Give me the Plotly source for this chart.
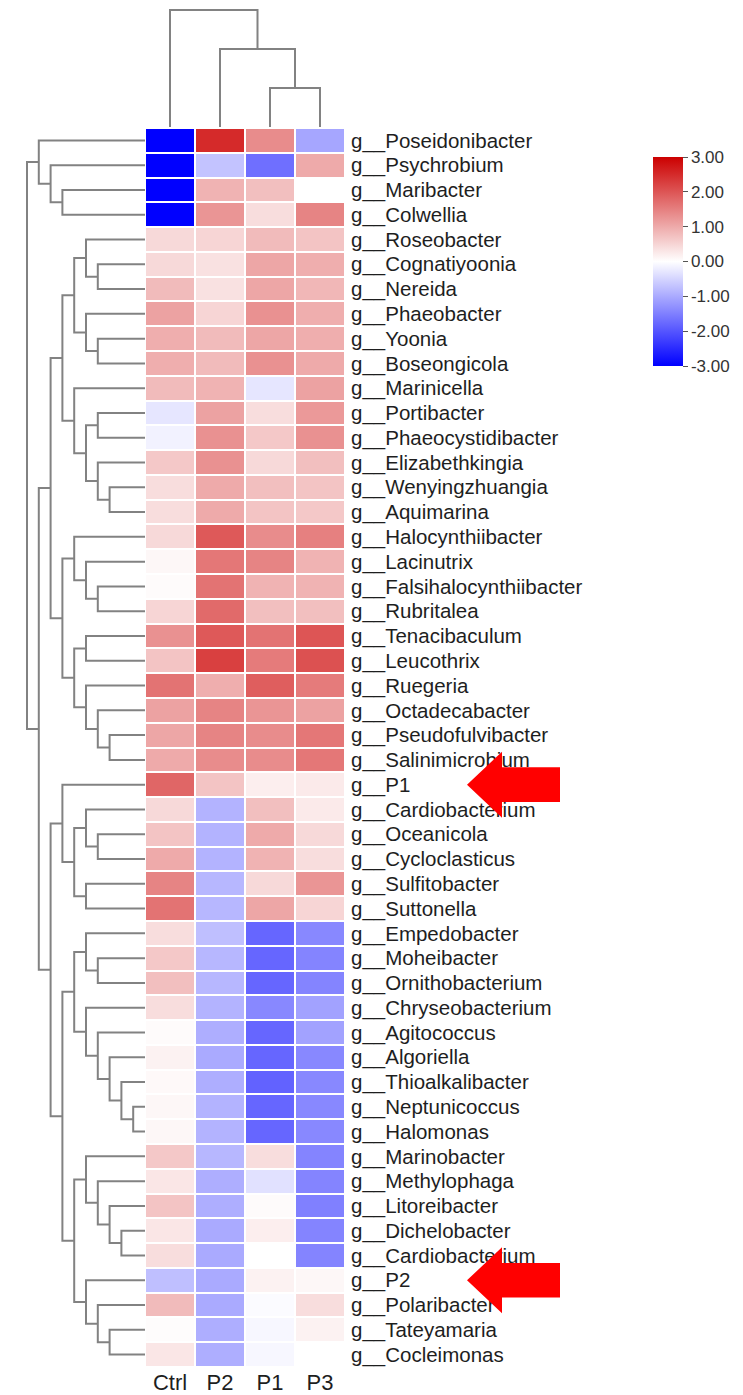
import plotly.graph_objects as go

# ---------------- data ----------------
columns = ["Ctrl", "P2", "P1", "P3"]

genera = [
    "g__Poseidonibacter", "g__Psychrobium", "g__Maribacter", "g__Colwellia",
    "g__Roseobacter", "g__Cognatiyoonia", "g__Nereida", "g__Phaeobacter",
    "g__Yoonia", "g__Boseongicola", "g__Marinicella", "g__Portibacter",
    "g__Phaeocystidibacter", "g__Elizabethkingia", "g__Wenyingzhuangia",
    "g__Aquimarina", "g__Halocynthiibacter", "g__Lacinutrix",
    "g__Falsihalocynthiibacter", "g__Rubritalea", "g__Tenacibaculum",
    "g__Leucothrix", "g__Ruegeria", "g__Octadecabacter", "g__Pseudofulvibacter",
    "g__Salinimicrobium", "g__P1", "g__Cardiobacterium", "g__Oceanicola",
    "g__Cycloclasticus", "g__Sulfitobacter", "g__Suttonella", "g__Empedobacter",
    "g__Moheibacter", "g__Ornithobacterium", "g__Chryseobacterium",
    "g__Agitococcus", "g__Algoriella", "g__Thioalkalibacter", "g__Neptunicoccus",
    "g__Halomonas", "g__Marinobacter", "g__Methylophaga", "g__Litoreibacter",
    "g__Dichelobacter", "g__Cardiobacterium ", "g__P2", "g__Polaribacter",
    "g__Tateyamaria", "g__Cocleimonas",
]

ctrl_vals = [-3, -3, -3, -3,
             0.45, 0.45, 0.8, 1.1, 0.95, 0.95, 0.8, -0.3, -0.15, 0.65, 0.4, 0.4,
             0.45, 0.1, 0.05, 0.5, 1.3, 0.7, 1.65, 1.1, 1.05, 1.0,
             1.8, 0.45, 0.7, 1.0, 1.45, 1.65,
             0.4, 0.65, 0.75, 0.4, 0.05, 0.15, 0.07, 0.1, 0.1,
             0.65, 0.3, 0.7, 0.3, 0.4, -0.75, 0.8, 0.03, 0.3]
p2_vals = [2.5, -0.7, 0.9, 1.25,
           0.5, 0.35, 0.35, 0.5, 0.8, 0.8, 0.9, 1.1, 1.3, 1.3, 1.0, 1.0,
           1.95, 1.6, 1.65, 1.75, 1.95, 2.25, 0.95, 1.45, 1.45, 1.35,
           0.7, -0.9, -0.9, -0.9, -0.85, -0.85,
           -0.75, -0.85, -0.85, -0.9, -0.95, -1.0, -0.95, -0.9, -0.9,
           -0.85, -0.95, -0.95, -1.0, -1.0, -1.0, -1.0, -0.95, -0.95]
p1_vals = [1.35, -1.7, 0.75, 0.4,
           0.8, 1.05, 1.05, 1.3, 1.05, 1.3, -0.3, 0.4, 0.65, 0.45, 0.75, 0.7,
           1.35, 1.45, 0.9, 0.75, 1.65, 1.55, 1.9, 1.25, 1.35, 1.35,
           0.2, 0.75, 1.0, 0.9, 0.45, 1.05,
           -1.8, -1.8, -1.8, -1.4, -1.8, -1.8, -1.85, -1.8, -1.8,
           0.4, -0.35, 0.05, 0.2, 0.0, 0.15, -0.05, -0.1, -0.1]
p3_vals = [-1.05, 1.0, 0.0, 1.45,
           0.7, 0.95, 0.85, 0.95, 0.95, 1.0, 1.1, 1.2, 1.3, 0.75, 0.7, 0.65,
           1.5, 0.9, 0.9, 0.75, 2.0, 2.05, 1.55, 1.1, 1.6, 1.6,
           0.25, 0.25, 0.45, 0.4, 1.25, 0.5,
           -1.4, -1.45, -1.45, -1.1, -1.1, -1.4, -1.4, -1.4, -1.4,
           -1.45, -1.45, -1.5, -1.45, -1.45, 0.1, 0.4, 0.15, 0.0]

colorbar_ticks = [3, 2, 1, 0, -1, -2, -3]
colorbar_ticktext = ["3.00", "2.00", "1.00", "0.00", "-1.00", "-2.00", "-3.00"]

# dendrograms: [left, right, merge height]; leaves = row / column index
top4 = [0, [1, [2, 3, 7], 8], 9]
grp_a = [[4, [5, 6, 4], 5], [7, [8, 9, 4], 5], 6]
grp_b = [10, [[11, 12, 4], [13, [14, 15, 3], 4], 5], 6]
grp_c = [16, [17, [18, 19, 4], 5], 6]
grp_d = [[20, 21, 5], [22, [23, [24, 25, 3], 4], 5], 6]
grp_e = [26, [[27, [28, 29, 4], 5], [30, 31, 5], 6], 7]
grp_f1 = [[32, [33, 34, 4], 5], [35, [36, [37, [38, [39, 40, 1], 2], 3], 4], 5], 6]
grp_f2 = [[41, [42, [43, [44, 45, 2], 3], 4], 5], [46, [47, [48, 49, 3], 4], 5], 6]
row_tree = [top4, [[[grp_a, grp_b, 7], [grp_c, grp_d, 7], 8],
                   [grp_e, [grp_f1, grp_f2, 7], 8], 9], 10]
col_tree = [0, [1, [2, 3, 1], 2], 3]

# ---------------- layout geometry ----------------
W, H = 743, 1395
hm_left, hm_right = 145, 345
hm_top, hm_bottom = 128, 1367
row_step_px = 11.8     # px per dendrogram level (rows)
col_step_px = 39.0     # px per dendrogram level (columns)
col_dendro_bottom = 127

xd_hm = [hm_left / W, hm_right / W]
yd_hm = [1 - hm_bottom / H, 1 - hm_top / H]

line_color = "rgb(130,130,130)"


def dendro_segments(node, xs, ys):
    """Return (position, height); append elbow segments."""
    if not isinstance(node, list):
        return float(node), 0.0
    left, right, h = node
    pl, hl = dendro_segments(left, xs, ys)
    pr, hr = dendro_segments(right, xs, ys)
    xs.extend([pl, pl, pr, pr, None])
    ys.extend([hl, h, h, hr, None])
    return (pl + pr) / 2.0, float(h)


rpos, rh = [], []
dendro_segments(row_tree, rpos, rh)
cpos, chh = [], []
dendro_segments(col_tree, cpos, chh)

z = [[ctrl_vals[i], p2_vals[i], p1_vals[i], p3_vals[i]] for i in range(len(genera))]

fig = go.Figure()

fig.add_trace(go.Heatmap(
    z=z, x=list(range(len(columns))), y=list(range(len(genera))),
    zmin=-3, zmax=3,
    colorscale=[[0, "rgb(0,0,255)"], [0.5, "rgb(255,255,255)"], [1, "rgb(204,0,0)"]],
    xgap=2, ygap=2,
    colorbar=dict(
        x=653 / W, xanchor="left", xpad=0,
        y=1 - (157 + 366) / 2 / H, yanchor="middle", ypad=0,
        lenmode="pixels", len=209,
        thicknessmode="pixels", thickness=30,
        outlinewidth=0,
        tickvals=colorbar_ticks, ticktext=colorbar_ticktext,
        ticks="outside", ticklen=5, tickcolor="#555", tickwidth=1,
        tickfont=dict(family="Liberation Sans, Arial", size=17, color="#333"),
    ),
    xaxis="x", yaxis="y",
    hoverinfo="skip",
))

# row dendrogram (height on x2, rows on y)
fig.add_trace(go.Scatter(
    x=rh, y=rpos, mode="lines", xaxis="x2", yaxis="y",
    line=dict(color=line_color, width=2), hoverinfo="skip", showlegend=False,
))
# column dendrogram (columns on x3, height on y3)
fig.add_trace(go.Scatter(
    x=cpos, y=chh, mode="lines", xaxis="x3", yaxis="y3",
    line=dict(color=line_color, width=2), hoverinfo="skip", showlegend=False,
))

label_font = dict(family="Liberation Sans, Arial", size=20.5, color="#1e1e1e")

fig.update_layout(
    width=W, height=H,
    margin=dict(l=0, r=0, t=0, b=0),
    paper_bgcolor="white", plot_bgcolor="white",
    showlegend=False,
    xaxis=dict(
        domain=xd_hm, range=[-0.5, len(columns) - 0.5], anchor="y",
        tickvals=list(range(len(columns))), ticktext=columns,
        showgrid=False, zeroline=False, showline=False, ticks="",
        tickfont=dict(family="Liberation Sans, Arial", size=22, color="#1e1e1e"),
        fixedrange=True,
    ),
    yaxis=dict(
        domain=yd_hm, range=[len(genera) - 0.5, -0.5], anchor="x", side="right",
        tickvals=list(range(len(genera))), ticktext=genera,
        showgrid=False, zeroline=False, showline=False, ticks="",
        ticklabelstandoff=5,
        tickfont=label_font, fixedrange=True,
    ),
    xaxis2=dict(
        domain=[0, hm_left / W], range=[hm_left / row_step_px, 0], anchor="y",
        visible=False, fixedrange=True,
    ),
    xaxis3=dict(
        domain=xd_hm, range=[-0.5, len(columns) - 0.5], anchor="y3",
        visible=False, fixedrange=True,
    ),
    yaxis3=dict(
        domain=[1 - col_dendro_bottom / H, 1], range=[0, col_dendro_bottom / col_step_px],
        anchor="x3", visible=False, fixedrange=True,
    ),
)

# red arrows pointing at the highlighted rows
def row_to_paper(idx):
    return yd_hm[1] - (idx + 0.5) / len(genera) * (yd_hm[1] - yd_hm[0])

row_h_paper = (yd_hm[1] - yd_hm[0]) / len(genera)
for name in ["g__P1", "g__P2"]:
    yc = row_to_paper(genera.index(name))
    tip, base, tail = 467 / W, 502 / W, 560 / W
    hh = 1.33 * row_h_paper
    sh = 0.70 * row_h_paper
    path = (f"M {tip} {yc} L {base} {yc + hh} L {base} {yc + sh} L {tail} {yc + sh} "
            f"L {tail} {yc - sh} L {base} {yc - sh} L {base} {yc - hh} Z")
    fig.add_shape(type="path", path=path, xref="paper", yref="paper",
                  fillcolor="rgb(255,0,0)", line=dict(width=0), layer="above")

fig.write_html(
    "out.html",
    config={"displayModeBar": False, "staticPlot": True},
    post_script="document.body.style.margin='0';document.body.style.overflow='hidden';",
)
